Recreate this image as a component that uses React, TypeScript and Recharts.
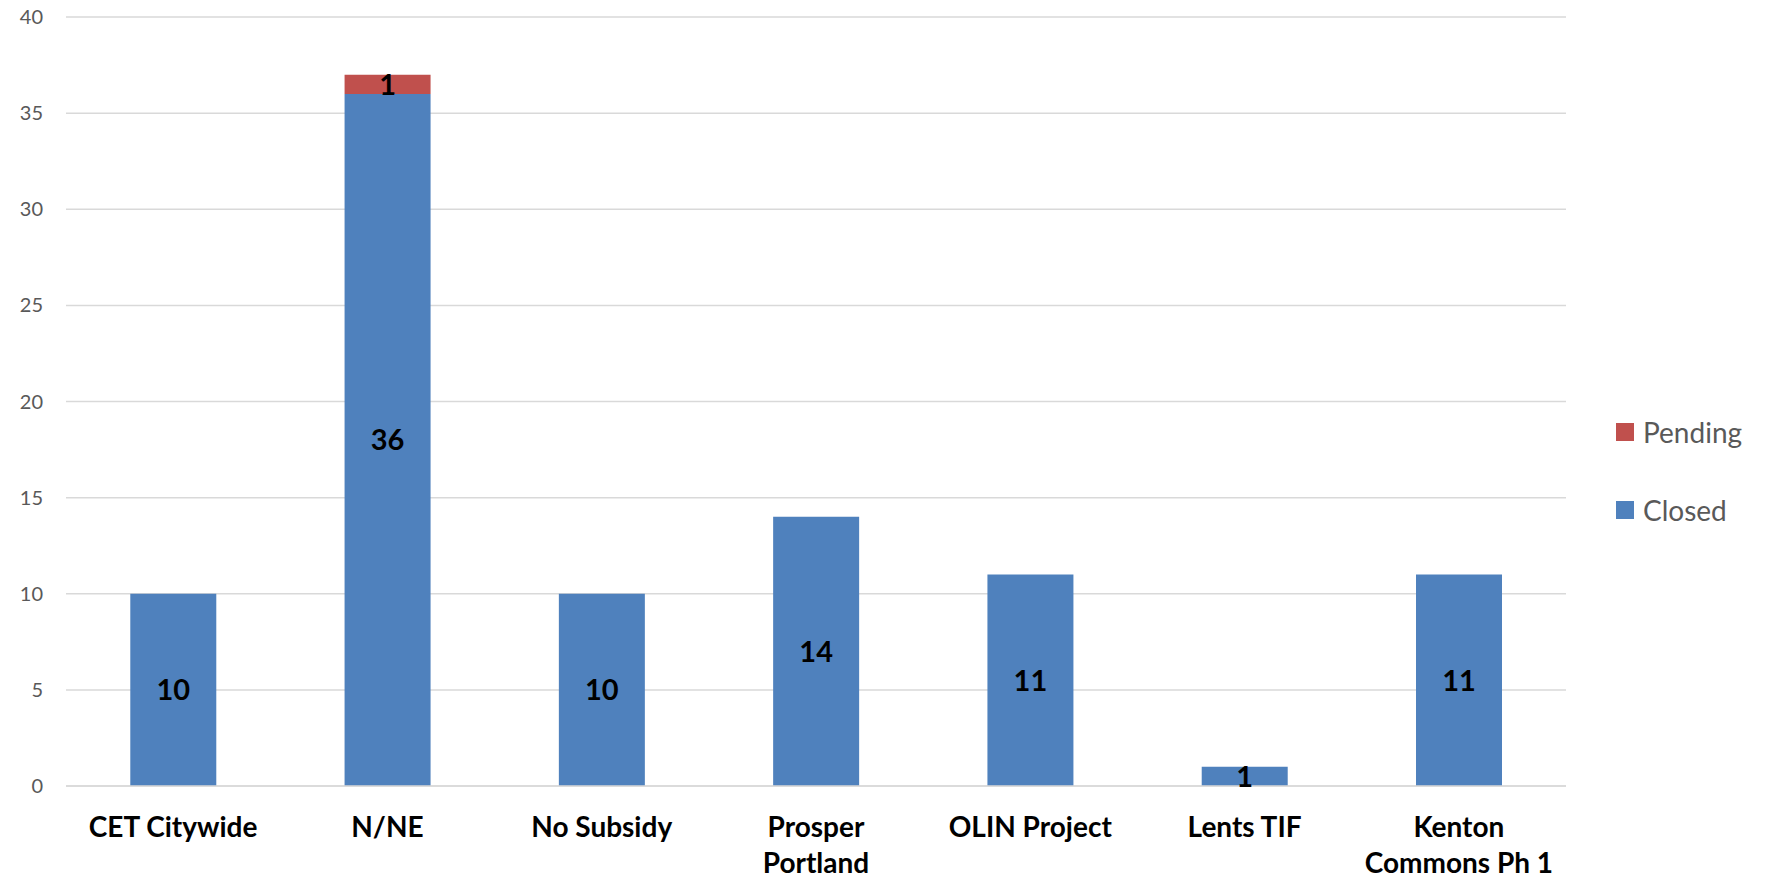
import { BarChart, Bar, XAxis, YAxis, CartesianGrid, Legend, LabelList } from 'recharts';

const categories = ['CET Citywide', 'N/NE', 'No Subsidy', 'Prosper Portland', 'OLIN Project', 'Lents TIF', 'Kenton Commons Ph 1'];
const tickLines = [['CET Citywide'], ['N/NE'], ['No Subsidy'], ['Prosper', 'Portland'], ['OLIN Project'], ['Lents TIF'], ['Kenton', 'Commons Ph 1']];
const closed = [10, 36, 10, 14, 11, 1, 11];
const pending = [0, 1, 0, 0, 0, 0, 0];
const yTicks = [0, 5, 10, 15, 20, 25, 30, 35, 40];

const data = categories.map((name, i) => ({ name, closed: closed[i], pending: pending[i] }));

const FONT = 'Lato, "Open Sans", sans-serif';
const BLUE = '#4f81bd';
const RED = '#c0504d';

function CategoryTick(props: any) {
  const { x, y, index } = props;
  const lines = tickLines[index] || [props.payload.value];
  return (
    <text x={x} y={y} textAnchor="middle" fontFamily={FONT} fontSize={28} fontWeight={700} fill="#000">
      {lines.map((l: string, k: number) => (
        <tspan key={k} x={x} dy={k === 0 ? 49 : 36}>
          {l}
        </tspan>
      ))}
    </text>
  );
}

function LegendBox() {
  const items = [
    { label: 'Pending', color: RED },
    { label: 'Closed', color: BLUE },
  ];
  return (
    <div style={{ fontFamily: FONT, fontSize: 28, color: '#595959' }}>
      {items.map((it) => (
        <div key={it.label} style={{ display: 'flex', alignItems: 'center', height: 78 }}>
          <span style={{ width: 18, height: 18, background: it.color, marginRight: 9, display: 'inline-block' }} />
          <span>{it.label}</span>
        </div>
      ))}
    </div>
  );
}

const hideZero = (v: any) => (v ? v : '');

export default function App() {
  return (
    <div style={{ position: 'absolute', left: 0, top: 0, background: '#fff' }}>
      <BarChart
        width={1773}
        height={879}
        data={data}
        margin={{ top: 17, right: 50, left: 0, bottom: 0 }}
        barCategoryGap="30%"
      >
        <CartesianGrid vertical={false} stroke="#d9d9d9" strokeWidth={1.5} />
        <XAxis
          dataKey="name"
          height={93}
          interval={0}
          tickLine={false}
          tickSize={0}
          axisLine={{ stroke: '#d9d9d9', strokeWidth: 1.5 }}
          tick={<CategoryTick />}
        />
        <YAxis
          width={66}
          domain={[0, 40]}
          ticks={yTicks}
          axisLine={false}
          tickLine={false}
          tickSize={0}
          tickMargin={23}
          tick={{ fontFamily: FONT, fontSize: 20, fill: '#595959' }}
        />
        <Legend
          layout="vertical"
          align="right"
          verticalAlign="middle"
          content={<LegendBox />}
          wrapperStyle={{ width: 157, left: 1616, top: 393 }}
        />
        <Bar dataKey="closed" name="Closed" stackId="a" fill={BLUE} isAnimationActive={false}>
          <LabelList dataKey="closed" position="center" formatter={hideZero} fill="#000" fontFamily={FONT} fontSize={29} fontWeight={700} />
        </Bar>
        <Bar dataKey="pending" name="Pending" stackId="a" fill={RED} isAnimationActive={false}>
          <LabelList dataKey="pending" position="center" formatter={hideZero} fill="#000" fontFamily={FONT} fontSize={29} fontWeight={700} />
        </Bar>
      </BarChart>
    </div>
  );
}
